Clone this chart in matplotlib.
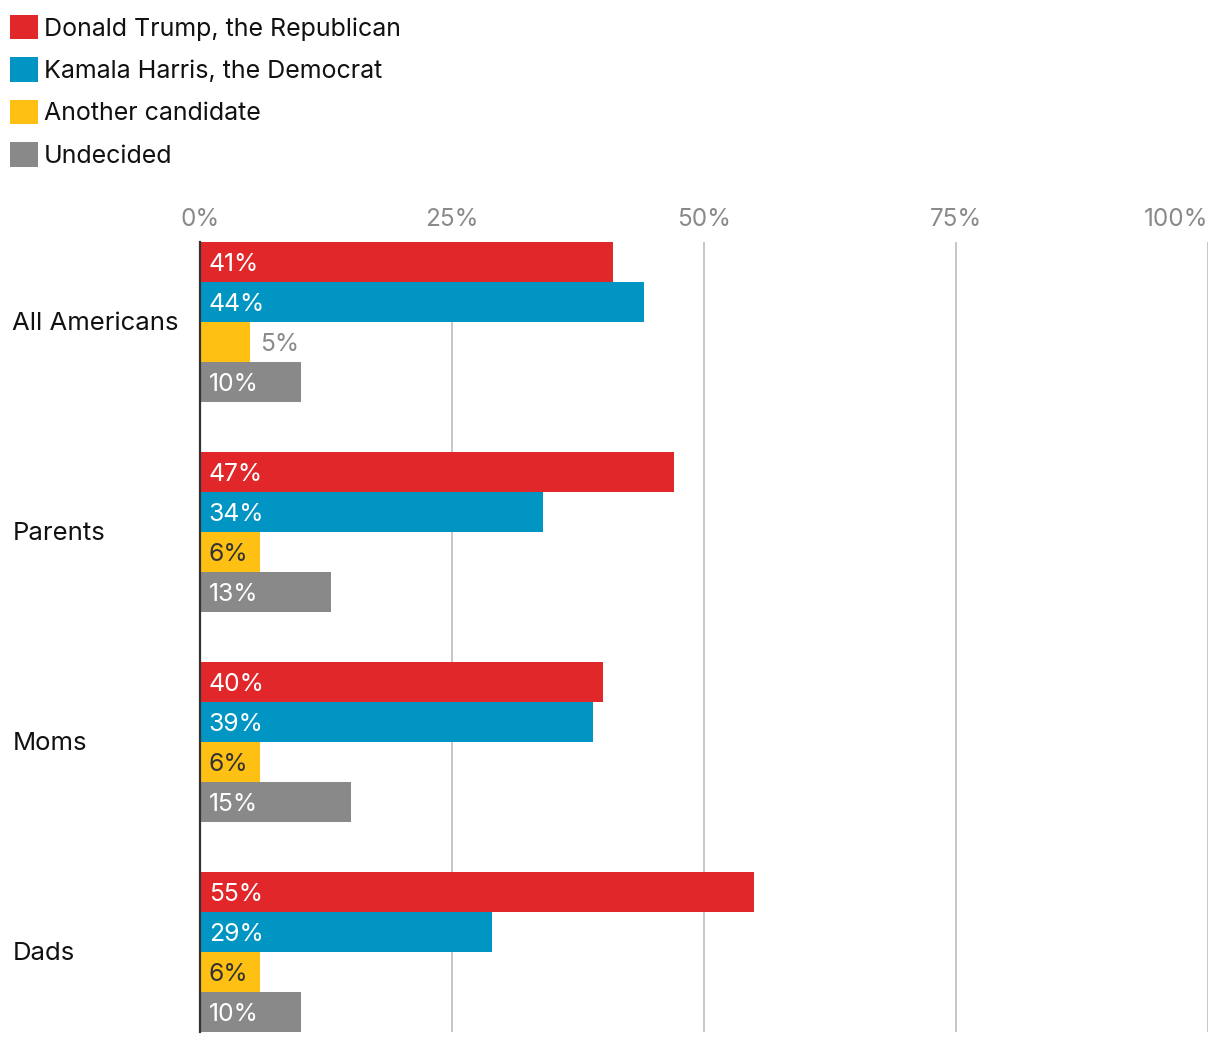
import matplotlib
matplotlib.use("Agg")
import matplotlib.pyplot as plt
from matplotlib.patches import Patch
from matplotlib.transforms import blended_transform_factory, offset_copy

plt.rcParams['font.family'] = ['Inter', 'DejaVu Sans']

categories = ["All Americans", "Parents", "Moms", "Dads"]
series_names = ["Donald Trump, the Republican", "Kamala Harris, the Democrat",
                "Another candidate", "Undecided"]
trump = [41, 47, 40, 55]
harris = [44, 34, 39, 29]
another = [5, 6, 6, 6]
undecided = [10, 13, 15, 10]
series_values = [trump, harris, another, undecided]
colors = ["#E12729", "#0095C3", "#FEC013", "#898989"]
label_colors = ["white", "white", "#333333", "white"]
tick_vals = [0, 25, 50, 75, 100]
tick_labels = ["0%", "25%", "50%", "75%", "100%"]

W, H = 1220, 1042
fig = plt.figure(figsize=(W / 100, H / 100), dpi=100)
ax = fig.add_axes([200 / W, 10 / H, 1008 / W, 790 / H])

gap = 1.25
group_h = len(series_values) + gap
for gi, cat in enumerate(categories):
    for si, vals in enumerate(series_values):
        y = gi * group_h + si + 0.5
        v = vals[gi]
        ax.barh(y, v, height=1.0, color=colors[si], zorder=3, linewidth=0)
        if v <= 5:
            ax.annotate(f"{v}%", (v, y), xytext=(7.0, -1.5), textcoords="offset points",
                        ha="left", va="center", color="#8a8a8a", fontsize=17.8, zorder=4)
        else:
            ax.annotate(f"{v}%", (0, y), xytext=(6.3, -1.5), textcoords="offset points",
                        ha="left", va="center", color=label_colors[si], fontsize=17.8, zorder=4)

trans = offset_copy(blended_transform_factory(fig.transFigure, ax.transData),
                    fig=fig, y=-2, units="dots")
for gi, cat in enumerate(categories):
    yc = gi * group_h + len(series_values) / 2
    ax.text(12.5 / W, yc, cat, transform=trans, ha="left", va="center",
            fontsize=18.5, color="#111111")

ax.set_xlim(0, 100)
ax.set_ylim(len(categories) * group_h - gap, 0)
ax.xaxis.tick_top()
ax.set_xticks(tick_vals)
ax.set_xticklabels(tick_labels)
ax.tick_params(axis="x", length=0, pad=8, labelsize=17.5, labelcolor="#8a8a8a")
ax.get_xticklabels()[-1].set_ha("right")
ax.set_yticks([])
for x in tick_vals[1:]:
    ax.axvline(x, color="#c2c2c2", linewidth=1.3, zorder=1)
for s in ["top", "right", "bottom"]:
    ax.spines[s].set_visible(False)
ax.spines["left"].set_color("#333333")
ax.spines["left"].set_linewidth(1.6)
ax.spines["left"].set_zorder(5)

handles = [Patch(facecolor=c, edgecolor="none") for c in colors]
fig.legend(handles, series_names, loc="upper left", bbox_to_anchor=(10 / W, 1 - 15 / H),
           borderaxespad=0, borderpad=0, frameon=False, fontsize=18,
           handlelength=1.12, handleheight=1.12, handletextpad=0.24, labelspacing=0.67,
           labelcolor="#111111")

fig.savefig("out.png", dpi=100)
